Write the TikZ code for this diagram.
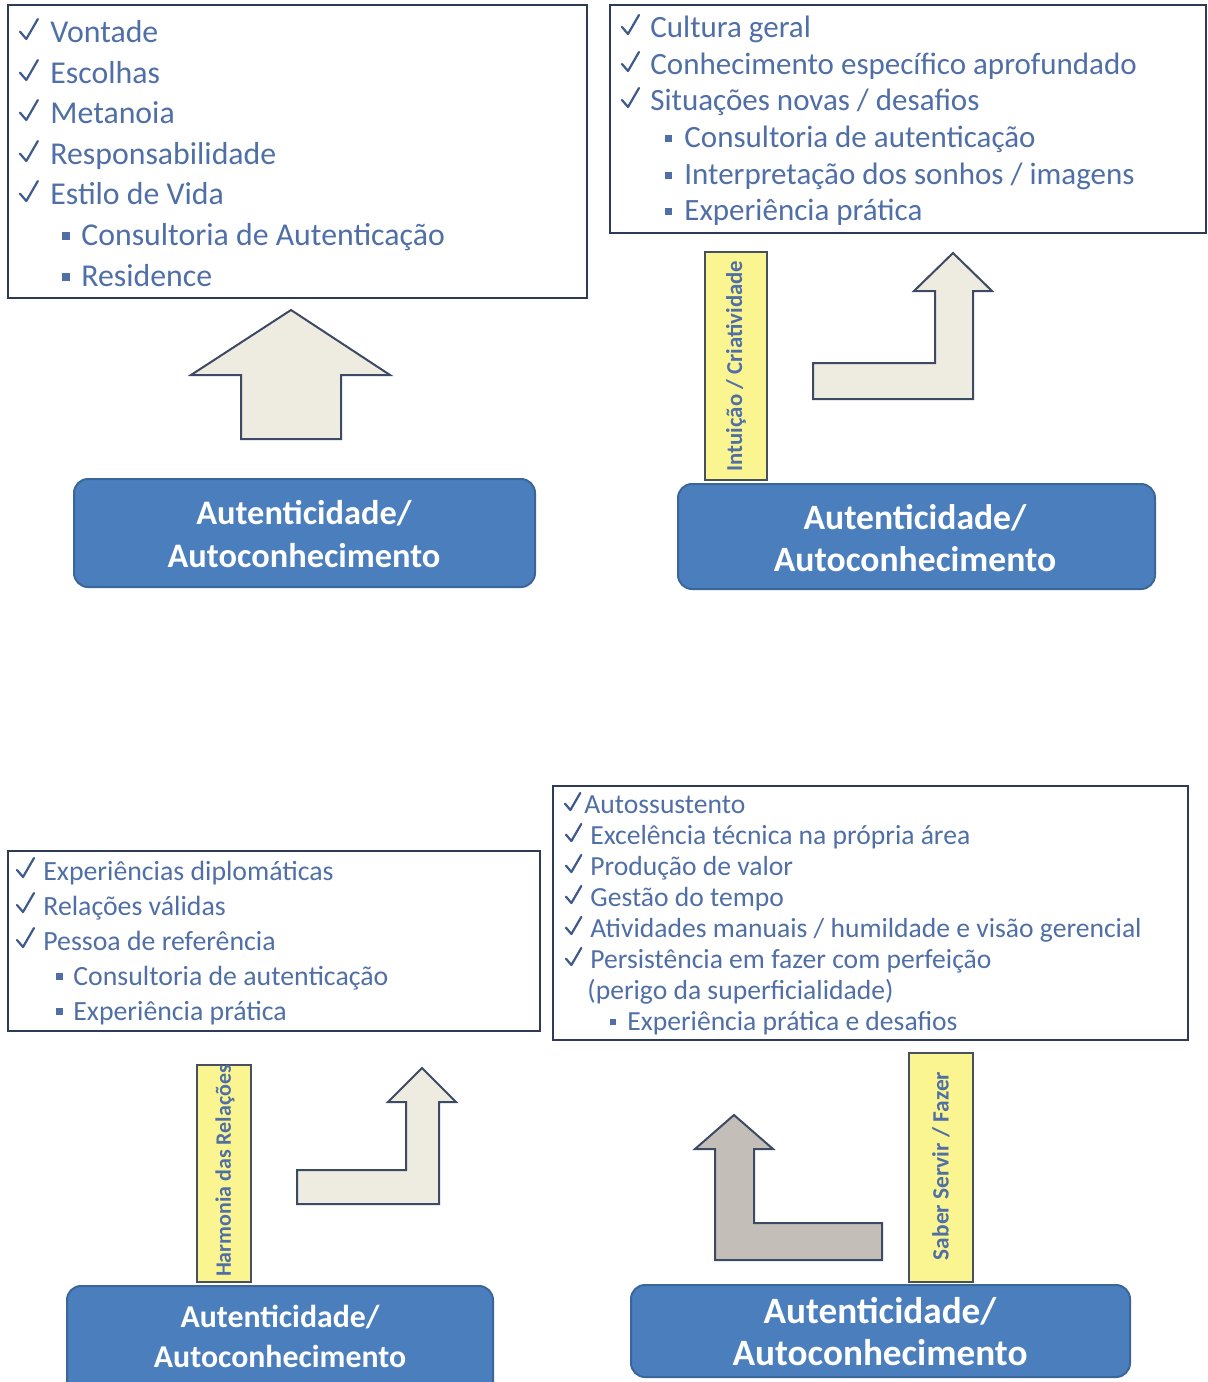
\documentclass[tikz,border=0pt]{standalone}
\usepackage{fontspec}
\setmainfont{Carlito}
\usetikzlibrary{fit}
\definecolor{txt}{HTML}{4F6FA6}
\definecolor{chk}{HTML}{3E5A8C}
\definecolor{frame}{HTML}{2D3B57}
\definecolor{bluefill}{HTML}{4A7EBD}
\definecolor{blueedge}{HTML}{3A6699}
\definecolor{yel}{HTML}{FAF590}
\definecolor{yeledge}{HTML}{46505E}
\definecolor{beige}{HTML}{EEECE1}
\definecolor{greyarr}{HTML}{C3BEB8}
\definecolor{arredge}{HTML}{3D4A63}
\def\ts{1}
\tikzset{
  listbox/.style={draw=frame, line width=1pt, inner sep=0pt, fill=white},
  bluebox/.style={draw=blueedge, line width=1pt, fill=bluefill, rounded corners=7pt, inner sep=0pt},
  bluetext/.style={text=white, align=center, inner sep=0pt},
  ybar/.style={draw=yeledge, line width=1pt, fill=yel, inner sep=0pt},
  ytext/.style={text=txt, rotate=90, inner sep=0pt},
  item/.style={anchor=base west, inner sep=0pt, text=txt},
  arrowshape/.style={draw=arredge, line width=1pt, line join=miter},
  tick/.pic={\draw[chk, line width=1.1pt, line cap=round, line join=round] (0,-7*\ts) -- (6*\ts,0) -- (17*\ts,-19*\ts);}
}
\newcommand\chkline[5]{\pic at (#2,#4-3) {tick}; \node[item] (#1) at (#3,#4) {#5};}
\newcommand\sqline[6]{\fill[txt] (#2,#4-5) rectangle ++(#6,-#6); \node[item] (#1) at (#3,#4) {#5};}
\begin{document}
\begin{tikzpicture}[x=0.5pt,y=-0.5pt]
\useasboundingbox (0,0) rectangle (1208,1382);
\clip (0,0) rectangle (1208,1382);
\fill[white] (0,0) rectangle (1208,1382);

% ---------- list boxes ----------
\node[listbox, fit={(8,5) (587,298)}] (L1) {};
\node[listbox, fit={(610,5) (1206,233)}] (L2) {};
\node[listbox, fit={(8,851) (540,1031)}] (L3) {};
\node[listbox, fit={(553,786) (1188,1040)}] (L4) {};

\begin{scope}[every node/.append style={font=\fontsize{15.9}{19}\selectfont}]
\def\ts{1.05}
\chkline{a1}{20}{50}{42}{Vontade}
\chkline{a2}{20}{50}{83}{Escolhas}
\chkline{a3}{20}{50}{123}{Metanoia}
\chkline{a4}{20}{50}{164}{Responsabilidade}
\chkline{a5}{20}{50}{204}{Estilo de Vida}
\sqline{a6}{62}{81}{245}{Consultoria de Autenticação}{8}
\sqline{a7}{62}{81}{286}{Residence}{8}
\end{scope}

\begin{scope}[every node/.append style={font=\fontsize{15.5}{19}\selectfont}]
\def\ts{1}
\chkline{b1}{622}{650}{37}{Cultura geral}
\chkline{b2}{622}{650}{74}{Conhecimento específico aprofundado}
\chkline{b3}{622}{650}{110}{Situações novas / desafios}
\sqline{b4}{665}{684}{147}{Consultoria de autenticação}{7}
\sqline{b5}{665}{684}{184}{Interpretação dos sonhos / imagens}{7}
\sqline{b6}{665}{684}{220}{Experiência prática}{7}
\end{scope}

\begin{scope}[every node/.append style={font=\fontsize{13.9}{17}\selectfont}]
\def\ts{1}
\chkline{c1}{17}{43}{880}{Experiências diplomáticas}
\chkline{c2}{17}{43}{915}{Relações válidas}
\chkline{c3}{17}{43}{950}{Pessoa de referência}
\sqline{c4}{56}{73}{985}{Consultoria de autenticação}{7}
\sqline{c5}{56}{73}{1020}{Experiência prática}{7}
\end{scope}

\begin{scope}[every node/.append style={font=\fontsize{13.8}{16}\selectfont}]
\def\ts{0.9}
\chkline{d1}{565}{584}{813}{Autossustento}
\chkline{d2}{566}{590}{844}{Excelência técnica na própria área}
\chkline{d3}{566}{590}{875}{Produção de valor}
\chkline{d4}{566}{590}{906}{Gestão do tempo}
\chkline{d5}{566}{590}{937}{Atividades manuais / humildade e visão gerencial}
\chkline{d6}{566}{590}{968}{Persistência em fazer com perfeição}
\node[item] (d7) at (587,999) {(perigo da superficialidade)};
\sqline{d8}{610}{627}{1030}{Experiência prática e desafios}{6}
\end{scope}

% ---------- arrows ----------
\filldraw[arrowshape, fill=beige] (241,439) -- (241,375) -- (191,375) -- (291,310) -- (390,375) -- (341,375) -- (341,439) -- cycle;
\filldraw[arrowshape, fill=beige] (813,363) -- (935,363) -- (935,291) -- (914,291) -- (953,253) -- (992,291) -- (973,291) -- (973,399) -- (813,399) -- cycle;
\filldraw[arrowshape, fill=beige] (297,1170) -- (406,1170) -- (406,1102) -- (388,1102) -- (422,1068) -- (456,1102) -- (439,1102) -- (439,1204) -- (297,1204) -- cycle;
\filldraw[arrowshape, fill=greyarr] (882,1223) -- (754,1223) -- (754,1149) -- (773,1149) -- (734,1115) -- (695,1149) -- (715,1149) -- (715,1260) -- (882,1260) -- cycle;

% ---------- yellow bars ----------
\node[ybar, fit={(705,252) (767,480)}] (Y1) {};
\node[ytext, font=\fontsize{11.4}{13}\selectfont\bfseries] (Y1t) at (Y1.center) {Intuição / Criatividade};
\node[ybar, fit={(197,1065) (251,1282)}] (Y3) {};
\node[ytext, font=\fontsize{11}{13}\selectfont\bfseries] (Y3t) at (225,1171) {Harmonia das Relações};
\node[ybar, fit={(909,1053) (973,1282)}] (Y4) {};
\node[ytext, font=\fontsize{11.7}{13}\selectfont\bfseries] (Y4t) at (941,1166) {Saber Servir / Fazer};

% ---------- blue boxes ----------
\node[bluebox, fit={(74,479) (535,587)}] (B1) {};
\node[bluetext, font=\fontsize{17.2}{21.5}\selectfont\bfseries] (B1t) at (304,534) {Autenticidade/\\Autoconhecimento};
\node[bluebox, fit={(678,484) (1155,589)}] (B2) {};
\node[bluetext, font=\fontsize{17.8}{21}\selectfont\bfseries] (B2t) at (915,538) {Autenticidade/\\Autoconhecimento};
\node[bluebox, fit={(67,1286) (493,1396)}] (B3) {};
\node[bluetext, font=\fontsize{15.9}{20}\selectfont\bfseries] (B3t) at (280,1336) {Autenticidade/\\Autoconhecimento};
\node[bluebox, fit={(631,1285) (1130,1377)}] (B4) {};
\node[bluetext, font=\fontsize{18.6}{21}\selectfont\bfseries] (B4t) at (880,1332) {Autenticidade/\\Autoconhecimento};
\end{tikzpicture}
\end{document}
